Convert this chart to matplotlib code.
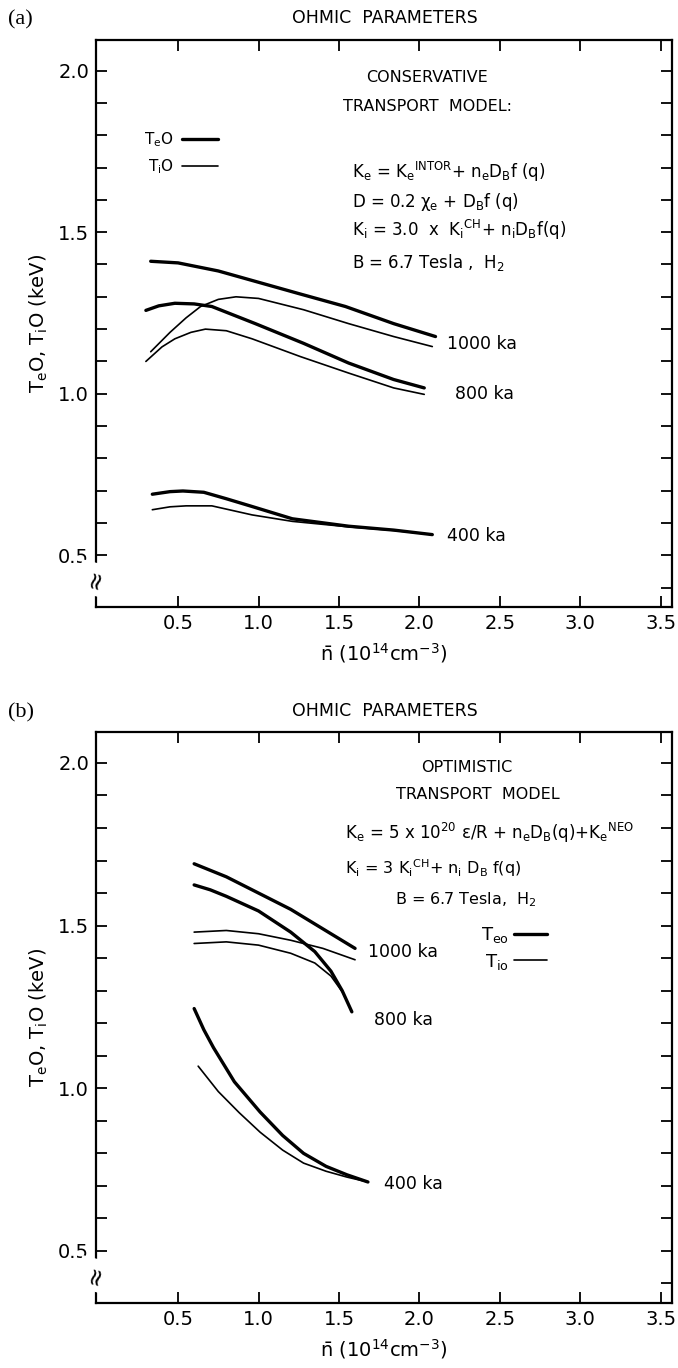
import numpy as np
import matplotlib
matplotlib.use("Agg")
import matplotlib.pyplot as plt
from matplotlib.ticker import MultipleLocator, FixedLocator
import matplotlib.transforms as mtransforms

plt.rcParams['font.family'] = ['DejaVu Sans']
plt.rcParams['mathtext.default'] = 'regular'

# ---- (a) conservative transport model ----
a_te1000_n = [0.33, 0.5, 0.75, 1.0, 1.25, 1.54, 1.84, 2.10]
a_te1000_t = [1.41, 1.405, 1.38, 1.345, 1.31, 1.27, 1.217, 1.177]
a_ti1000_n = [0.33, 0.45, 0.55, 0.64, 0.75, 0.86, 1.0, 1.28, 1.56, 1.84, 2.08]
a_ti1000_t = [1.13, 1.19, 1.235, 1.27, 1.292, 1.30, 1.295, 1.26, 1.217, 1.177, 1.146]
a_te800_n = [0.30, 0.38, 0.48, 0.60, 0.71, 0.98, 1.28, 1.56, 1.84, 2.03]
a_te800_t = [1.258, 1.272, 1.28, 1.278, 1.27, 1.217, 1.156, 1.095, 1.044, 1.018]
a_ti800_n = [0.30, 0.40, 0.48, 0.58, 0.67, 0.80, 0.96, 1.26, 1.56, 1.84, 2.03]
a_ti800_t = [1.10, 1.145, 1.17, 1.19, 1.20, 1.195, 1.17, 1.115, 1.064, 1.018, 0.998]
a_te400_n = [0.34, 0.45, 0.53, 0.66, 0.80, 0.96, 1.21, 1.56, 1.84, 2.08]
a_te400_t = [0.689, 0.697, 0.699, 0.695, 0.675, 0.651, 0.613, 0.59, 0.578, 0.564]
a_ti400_n = [0.34, 0.45, 0.55, 0.71, 0.96, 1.21, 1.56, 1.84, 2.08]
a_ti400_t = [0.641, 0.65, 0.653, 0.653, 0.625, 0.605, 0.588, 0.577, 0.564]

# ---- (b) optimistic transport model ----
b_te1000_n = [0.60, 0.80, 1.00, 1.20, 1.40, 1.60]
b_te1000_t = [1.69, 1.65, 1.60, 1.55, 1.49, 1.43]
b_ti1000_n = [0.60, 0.80, 1.00, 1.20, 1.40, 1.60]
b_ti1000_t = [1.48, 1.485, 1.475, 1.455, 1.43, 1.395]
b_te800_n = [0.60, 0.70, 0.80, 1.00, 1.20, 1.35, 1.45, 1.52, 1.58]
b_te800_t = [1.625, 1.61, 1.59, 1.545, 1.48, 1.42, 1.36, 1.30, 1.235]
b_ti800_n = [0.60, 0.80, 1.00, 1.20, 1.35, 1.45, 1.53]
b_ti800_t = [1.445, 1.45, 1.44, 1.415, 1.385, 1.345, 1.29]
b_te400_n = [0.60, 0.66, 0.72, 0.85, 1.01, 1.15, 1.28, 1.42, 1.55, 1.68]
b_te400_t = [1.245, 1.18, 1.125, 1.02, 0.927, 0.855, 0.80, 0.76, 0.734, 0.712]
b_ti400_n = [0.625, 0.75, 0.88, 1.01, 1.15, 1.28, 1.42, 1.55, 1.68]
b_ti400_t = [1.068, 0.99, 0.925, 0.865, 0.81, 0.77, 0.745, 0.727, 0.712]

x_ticks = [0.5, 1.0, 1.5, 2.0, 2.5, 3.0, 3.5]
y_ticks = [0.5, 1.0, 1.5, 2.0]

THICK = 2.4
THIN = 1.2

fig = plt.figure(figsize=(6.78, 13.68), dpi=100)
ax_a = fig.add_axes([0.1416, 0.5563, 0.8496, 0.4145])
ax_b = fig.add_axes([0.1416, 0.0475, 0.8496, 0.4174])


def style_axes(ax):
    ax.set_xlim(-0.01, 3.57)
    ax.set_ylim(0.34, 2.095)
    ax.xaxis.set_major_locator(FixedLocator(x_ticks))
    ax.yaxis.set_major_locator(FixedLocator(y_ticks))
    ax.yaxis.set_minor_locator(MultipleLocator(0.1))
    ax.set_xticklabels([f"{v:.1f}" for v in x_ticks])
    ax.set_yticklabels([f"{v:.1f}" for v in y_ticks])
    ax.tick_params(which='both', direction='in', length=8, width=1.3,
                   top=True, right=True, labelsize=14, pad=5)
    for s in ax.spines.values():
        s.set_linewidth(1.6)
    ax.set_xlabel(r'$\bar{\mathregular{n}}$ (10$^{14}$cm$^{-3}$)', fontsize=14, labelpad=6)
    ax.set_ylabel(r'T$_{e}$O, T$_{i}$O (keV)', fontsize=14, labelpad=6)
    # axis break on the temperature scale
    trans = mtransforms.blended_transform_factory(ax.transAxes, ax.transData)
    ax.text(0.0, 0.425, '≈', transform=trans, ha='center', va='center',
            fontsize=17, rotation=75, backgroundcolor='white', clip_on=False)


def draw(ax, pairs):
    handles = []
    for n, t, lw in pairs:
        ln, = ax.plot(n, t, color='black', lw=lw, solid_capstyle='round',
                      solid_joinstyle='round')
        handles.append(ln)
    return handles


# panel (a)
style_axes(ax_a)
h = draw(ax_a, [(a_te1000_n, a_te1000_t, THICK), (a_ti1000_n, a_ti1000_t, THIN),
                (a_te800_n, a_te800_t, THICK), (a_ti800_n, a_ti800_t, THIN),
                (a_te400_n, a_te400_t, THICK), (a_ti400_n, a_ti400_t, THIN)])
ax_a.legend([h[0], h[1]], [r'T$_{e}$O', r'T$_{i}$O'], loc='upper left',
            bbox_to_anchor=(0.06, 0.865), frameon=False, markerfirst=False,
            handlelength=2.4, labelspacing=0.55, fontsize=11, handletextpad=0.5)
for label, n, t in [('1000 ka', 2.17, 1.155), ('800 ka', 2.22, 1.0), ('400 ka', 2.17, 0.56)]:
    ax_a.text(n, t, label, fontsize=12.5, va='center', ha='left')
ax_a.text(0.575, 0.933, 'CONSERVATIVE', transform=ax_a.transAxes, ha='center', va='center', fontsize=11.5)
ax_a.text(0.575, 0.882, 'TRANSPORT  MODEL:', transform=ax_a.transAxes, ha='center', va='center', fontsize=11.5)
formulas_a = [
    r'K$_{e}$ = K$_{e}$$^{INTOR}$+ n$_{e}$D$_{B}$f (q)',
    r'D = 0.2 $\chi_{e}$ + D$_{B}$f (q)',
    r'K$_{i}$ = 3.0  x  K$_{i}$$^{CH}$+ n$_{i}$D$_{B}$f(q)',
    r'B = 6.7 Tesla ,  H$_{2}$',
]
for s, yf in zip(formulas_a, [0.767, 0.714, 0.665, 0.608]):
    ax_a.text(0.444, yf, s, transform=ax_a.transAxes, ha='left', va='center', fontsize=12)

# panel (b)
style_axes(ax_b)
h = draw(ax_b, [(b_te1000_n, b_te1000_t, THICK), (b_ti1000_n, b_ti1000_t, THIN),
                (b_te800_n, b_te800_t, THICK), (b_ti800_n, b_ti800_t, THIN),
                (b_te400_n, b_te400_t, THICK), (b_ti400_n, b_ti400_t, THIN)])
ax_b.legend([h[0], h[1]], [r'T$_{eo}$', r'T$_{io}$'], loc='upper left',
            bbox_to_anchor=(0.64, 0.69), frameon=False, markerfirst=False,
            handlelength=1.8, labelspacing=0.35, fontsize=13, handletextpad=0.3)
for label, n, t in [('1000 ka', 1.68, 1.42), ('800 ka', 1.72, 1.21), ('400 ka', 1.78, 0.707)]:
    ax_b.text(n, t, label, fontsize=12.5, va='center', ha='left')
ax_b.text(0.644, 0.937, 'OPTIMISTIC', transform=ax_b.transAxes, ha='center', va='center', fontsize=11.5)
ax_b.text(0.663, 0.89, 'TRANSPORT  MODEL', transform=ax_b.transAxes, ha='center', va='center', fontsize=11.5)
ax_b.text(0.432, 0.823, r'K$_{e}$ = 5 x 10$^{20}$ $\epsilon$/R + n$_{e}$D$_{B}$(q)+K$_{e}$$^{NEO}$',
          transform=ax_b.transAxes, ha='left', va='center', fontsize=12)
ax_b.text(0.432, 0.762, r'K$_{i}$ = 3 K$_{i}$$^{CH}$+ n$_{i}$ D$_{B}$ f(q)',
          transform=ax_b.transAxes, ha='left', va='center', fontsize=11.5)
ax_b.text(0.519, 0.706, r'B = 6.7 Tesla,  H$_{2}$',
          transform=ax_b.transAxes, ha='left', va='center', fontsize=11.5)

# panel tags and headings
for tag, yf in [('(a)', 1 - 20 / 1368), ('(b)', 1 - 713 / 1368)]:
    fig.text(0.012, yf, tag, family='Liberation Serif', fontsize=16, va='center', ha='left')
for yf in [1 - 18 / 1368, 1 - 711 / 1368]:
    fig.text(0.568, yf, 'OHMIC  PARAMETERS', fontsize=12.5, va='center', ha='center')

fig.savefig('out.png', dpi=100)
